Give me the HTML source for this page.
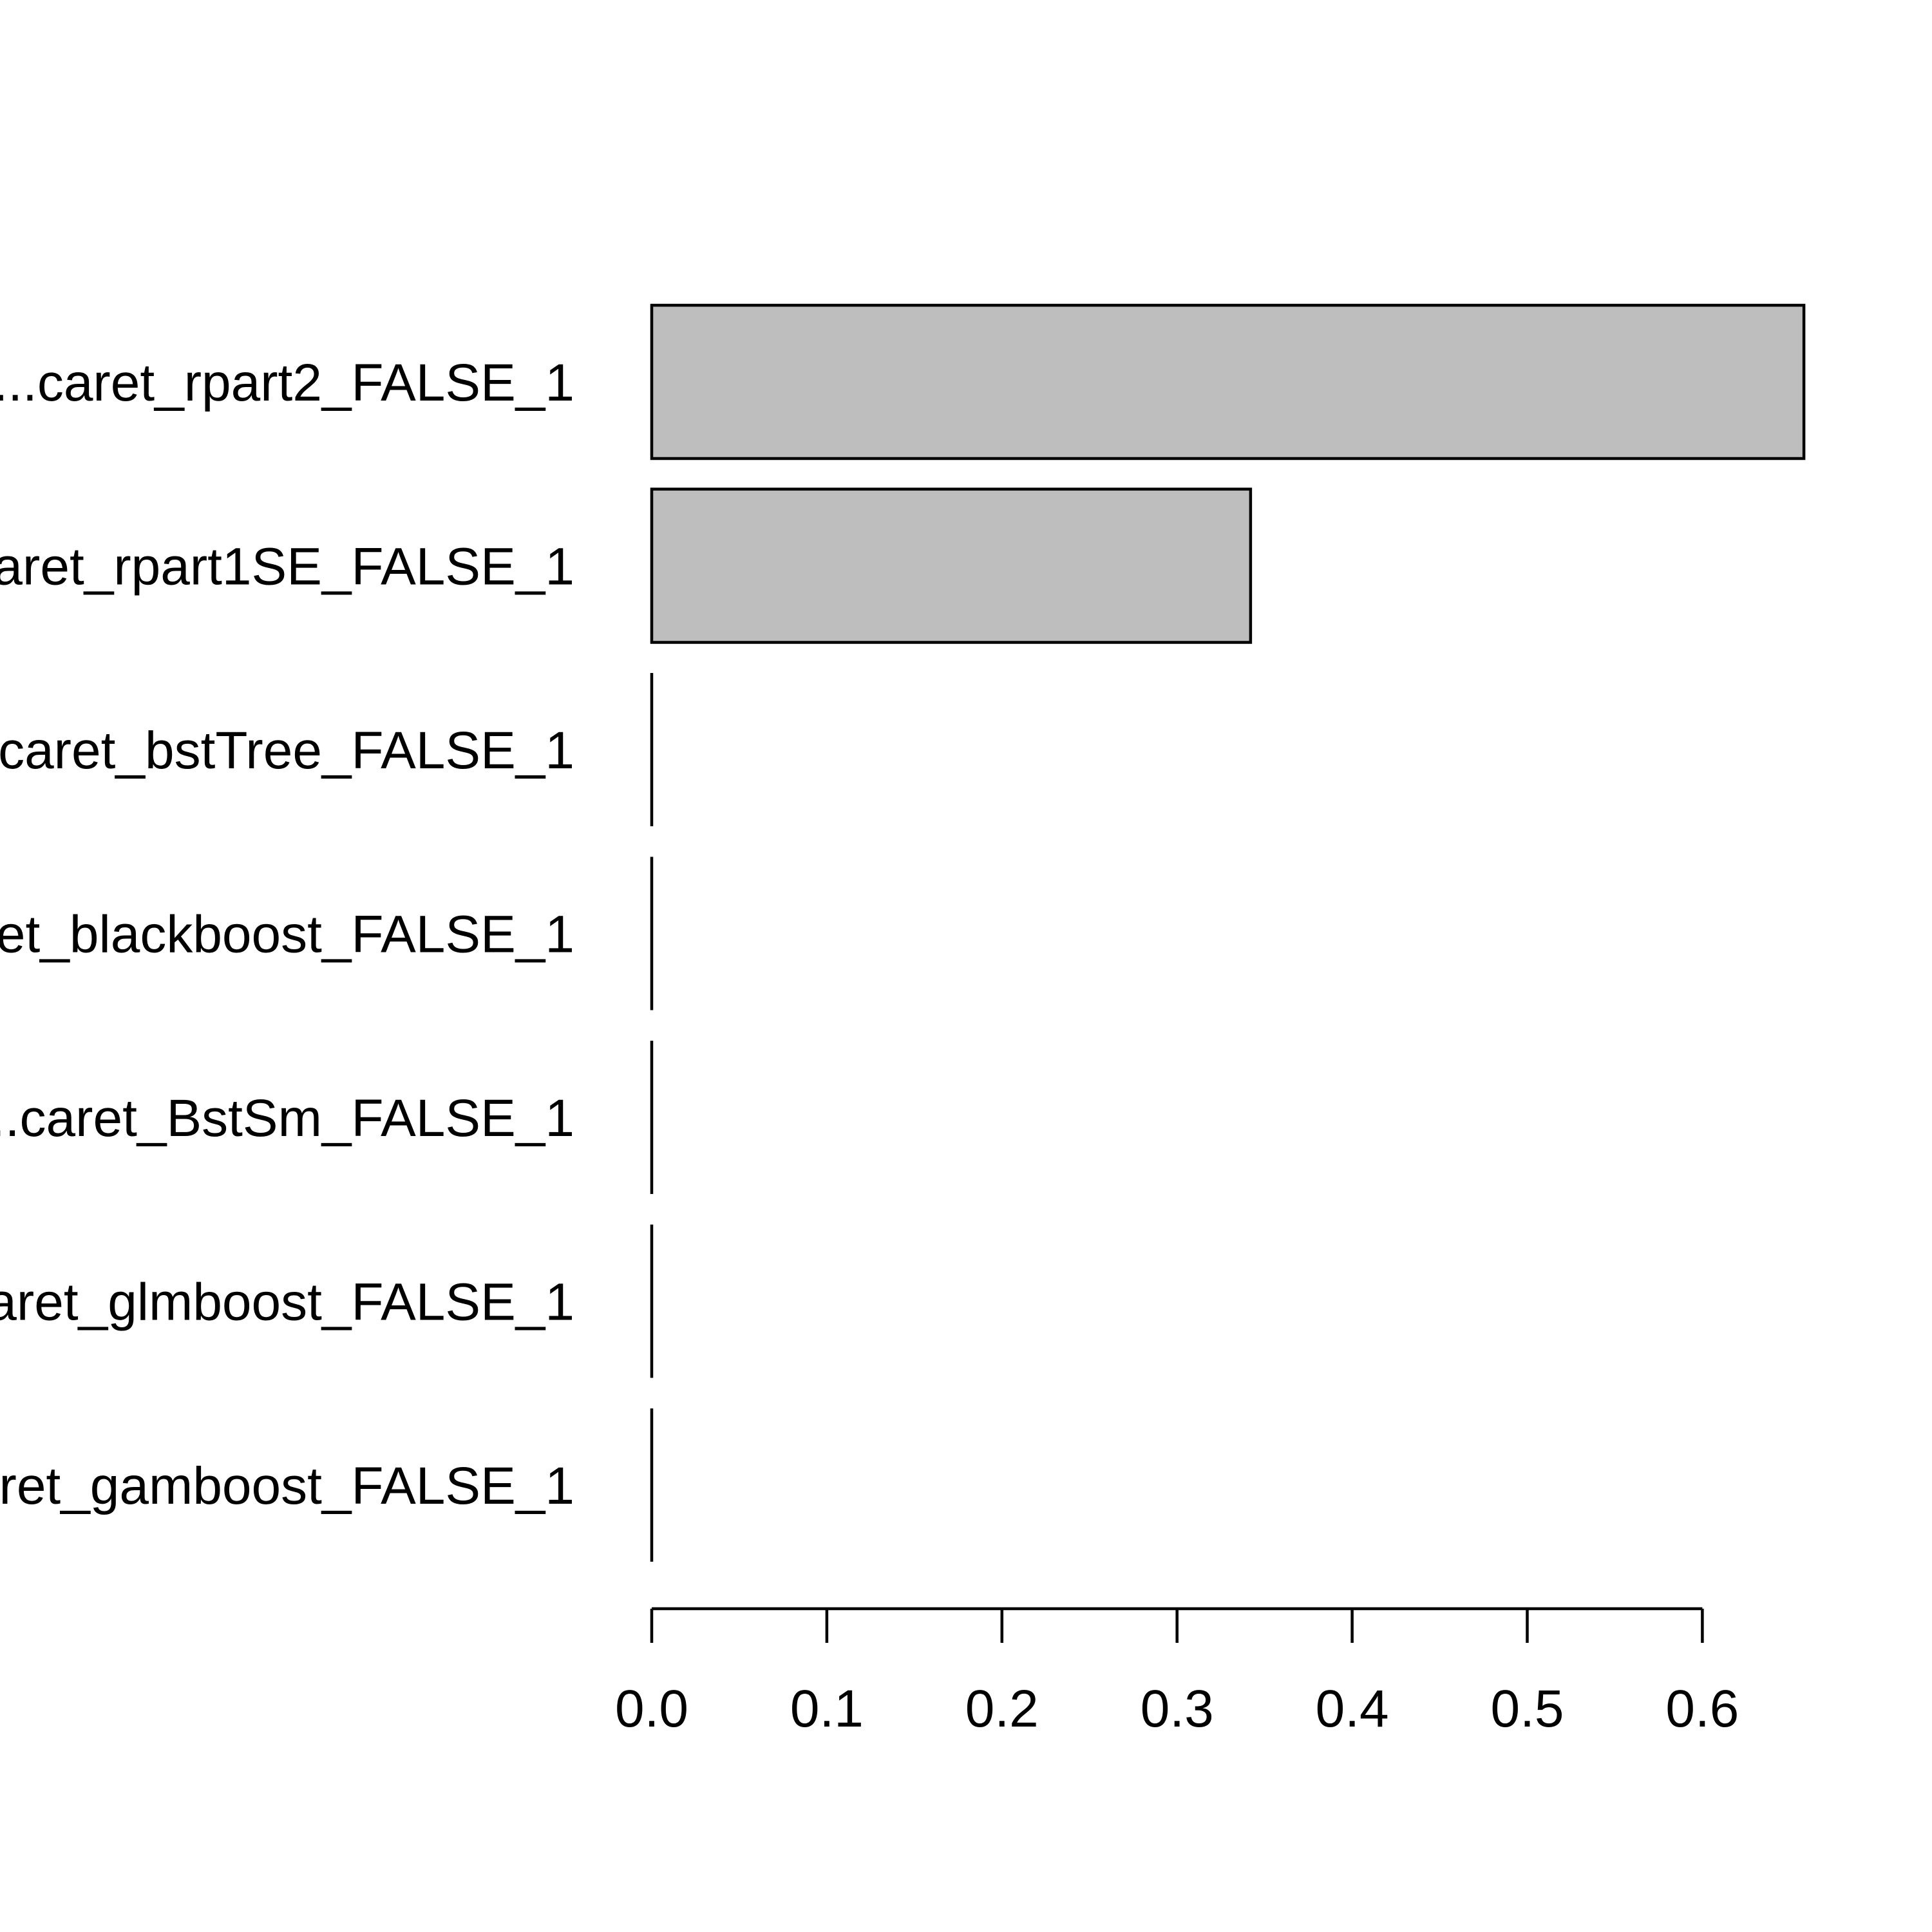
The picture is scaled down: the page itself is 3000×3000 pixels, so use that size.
<!DOCTYPE html>
<html><head><meta charset="utf-8"><style>html,body{margin:0;padding:0;background:#fff}svg{display:block}</style></head>
<body>
<svg width="3000" height="3000" viewBox="0 0 3000 3000" xmlns="http://www.w3.org/2000/svg" font-family="Liberation Sans, Arial, sans-serif">
<g id="bars"></g>
<g id="labels"></g>
<g id="axis"></g>
</svg>
<script>
const categories = ["...caret_rpart2_FALSE_1","...caret_rpart1SE_FALSE_1","...caret_bstTree_FALSE_1","...caret_blackboost_FALSE_1","...caret_BstSm_FALSE_1","...caret_glmboost_FALSE_1","...caret_gamboost_FALSE_1"];
const values = [0.658, 0.342, 0, 0, 0, 0, 0];
const tickValues = [0, 0.1, 0.2, 0.3, 0.4, 0.5, 0.6];
const tickLabels = ["0.0","0.1","0.2","0.3","0.4","0.5","0.6"];

const NS = "http://www.w3.org/2000/svg";
const x0 = 1012, pxPerUnit = 2719;
const xs = v => x0 + v * pxPerUnit;
const barTop0 = 474, pitch = 285.5, barH = 238;
const yTop = i => barTop0 + i * pitch;
function mk(tag, attrs, parent){const e=document.createElementNS(NS,tag);for(const k in attrs)e.setAttribute(k,attrs[k]);parent.appendChild(e);return e;}
const gb=document.getElementById('bars'), gl=document.getElementById('labels'), ga=document.getElementById('axis');
categories.forEach((c,i)=>{
  const y=yTop(i);
  const w=xs(values[i])-xs(0);
  if(w>0.5){
    const r=mk('rect',{x:xs(0),y:y,width:w,height:barH,fill:'#bebebe',stroke:'#000','stroke-width':4.5},gb);
    
    
  } else {
    const r=mk('line',{x1:xs(0),x2:xs(0),y1:y,y2:y+barH,stroke:'#000','stroke-width':4.5},gb);
    
    
  }
  const t=mk('text',{x:892,y:y+barH/2+29,'text-anchor':'end','font-size':82,fill:'#000'},gl);
  t.textContent=c;
  
  
});
const axY=2498;
const ln=mk('line',{x1:xs(tickValues[0]),x2:xs(tickValues[tickValues.length-1]),y1:axY,y2:axY,stroke:'#000','stroke-width':4.5},ga);


tickValues.forEach((v,i)=>{
  const tk=mk('line',{x1:xs(v),x2:xs(v),y1:axY,y2:2551,stroke:'#000','stroke-width':4.5},ga);
  
  
  const tl=mk('text',{x:xs(v),y:2681,'text-anchor':'middle','font-size':82,fill:'#000'},ga);
  tl.textContent=tickLabels[i];
  
  
});
</script>
</body></html>
